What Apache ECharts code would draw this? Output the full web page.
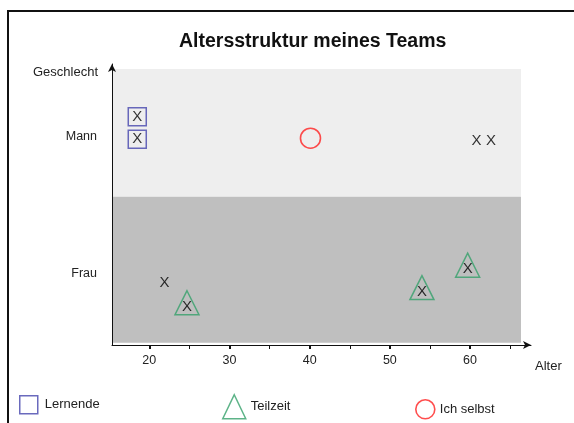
<!DOCTYPE html>
<html>
<head>
<meta charset="utf-8">
<script src="https://cdn.jsdelivr.net/npm/echarts@6/dist/echarts.min.js"></script>
<style>html,body{margin:0;padding:0;background:#fff}#c{width:574px;height:423px}</style>
</head>
<body>
<div id="c"></div>
<script>
// ---- data ----
const titleText = 'Altersstruktur meines Teams';
const ageTicks = [20, 30, 40, 50, 60];
const ageMinorTicks = [25, 35, 45, 55, 65];
const genderLabels = ['Frau', 'Mann'];
const genderPos = [25.3, 74.1];
const bandMann = [52.8, 98.2];
const bandFrau = [0.8, 52.8];
const bandAgeEnd = 66.35;
const lernende = [[18.5, 81.2], [18.5, 73.2]];
const teilzeit = [[24.7, 13.6], [54.0, 19.0], [59.7, 27.0]];
const ichSelbst = [[40.1, 73.6]];
const team = [[18.5, 81.2], [18.5, 73.2], [60.8, 72.6], [62.6, 72.6], [21.9, 22.0], [24.7, 13.6], [54.0, 19.0], [59.7, 27.0]];

const ageMin = 15.35, ageMax = 67.6;
const font = 'Liberation Sans, Arial, sans-serif';
const cBlue = '#4545ad', cGreen = '#35a06a', cRed = '#ff2020';

const chart = echarts.init(document.getElementById('c'), null, {renderer: 'canvas'});
const gridPos = {left: 112, right: 43, top: 64, bottom: 78};
chart.setOption({
  animation: false,
  textStyle: {fontFamily: font},
  title: {
    text: titleText, left: 174, top: 27,
    textStyle: {fontSize: 19.5, fontWeight: 'bold', color: '#111', fontFamily: font}
  },
  graphic: [{
    type: 'rect', shape: {x: 8, y: 11, width: 800, height: 800},
    style: {fill: 'none', stroke: '#111', lineWidth: 2}, z: 100
  }],
  grid: [Object.assign({}, gridPos), Object.assign({}, gridPos)],
  xAxis: [{
    type: 'value', gridIndex: 0, min: ageMin, max: ageMax, z: 10,
    name: 'Alter', nameLocation: 'end', nameGap: 4,
    nameTextStyle: {fontSize: 13, color: '#222', align: 'left', verticalAlign: 'top', padding: [15, 0, 0, 0]},
    splitLine: {show: false},
    axisLine: {lineStyle: {color: '#111', width: 1}, symbol: ['none', 'arrow'], symbolSize: [6, 8]},
    axisTick: {customValues: ageTicks, length: 4, lineStyle: {color: '#111', width: 2}},
    axisLabel: {customValues: ageTicks, margin: 9, fontSize: 12.5, color: '#222'}
  }, {
    type: 'value', gridIndex: 1, min: ageMin, max: ageMax, z: 10,
    splitLine: {show: false},
    axisLine: {show: false},
    axisTick: {customValues: ageMinorTicks, length: 4, lineStyle: {color: '#111', width: 1}},
    axisLabel: {show: false}
  }],
  yAxis: [{
    type: 'value', gridIndex: 0, min: 0, max: 100, z: 10,
    name: 'Geschlecht', nameLocation: 'end', nameGap: -8,
    nameTextStyle: {fontSize: 13, color: '#222', align: 'right', verticalAlign: 'middle', padding: [5, 14, 0, 0]},
    splitLine: {show: false},
    axisLine: {show: true, lineStyle: {color: '#111', width: 1}, symbol: ['none', 'arrow'], symbolSize: [6, 8]},
    axisTick: {show: false},
    axisLabel: {
      customValues: genderPos, margin: 15, fontSize: 12.5, color: '#222',
      formatter: function (v) {
        let best = 0;
        genderPos.forEach(function (p, i) { if (Math.abs(p - v) < Math.abs(genderPos[best] - v)) best = i; });
        return genderLabels[best];
      }
    }
  }, {
    type: 'value', gridIndex: 1, min: 0, max: 100, show: false
  }],
  legend: [{
    left: 19, top: 395, padding: 0, itemWidth: 18, itemHeight: 18, selectedMode: false,
    textStyle: {fontSize: 13, color: '#222', padding: [4, 0, 0, 2]},
    data: [{name: 'Lernende', icon: 'rect', itemStyle: {color: 'rgba(0,0,0,0)', borderColor: cBlue, borderWidth: 1.5}}]
  }, {
    left: 222, top: 394, padding: 0, itemWidth: 23, itemHeight: 24, selectedMode: false,
    textStyle: {fontSize: 13, color: '#222', padding: [2, 0, 0, 0]},
    data: [{name: 'Teilzeit', icon: 'triangle', itemStyle: {color: 'rgba(0,0,0,0)', borderColor: cGreen, borderWidth: 1.5}}]
  }, {
    left: 415, top: 399, padding: 0, itemWidth: 19, itemHeight: 19, selectedMode: false,
    textStyle: {fontSize: 13, color: '#222', padding: [0, 0, 2, 0]},
    data: [{name: 'Ich selbst', icon: 'circle', itemStyle: {color: 'rgba(0,0,0,0)', borderColor: cRed, borderWidth: 1.6}}]
  }],
  series: [{
    name: 'bands', type: 'scatter', xAxisIndex: 0, yAxisIndex: 0, data: [], z: 1,
    markArea: {
      silent: true,
      data: [
        [{xAxis: ageMin, yAxis: bandMann[0], itemStyle: {color: '#eeeeee'}}, {xAxis: bandAgeEnd, yAxis: bandMann[1]}],
        [{xAxis: ageMin, yAxis: bandFrau[0], itemStyle: {color: '#bfbfbf'}}, {xAxis: bandAgeEnd, yAxis: bandFrau[1]}]
      ]
    }
  }, {
    name: 'Lernende', type: 'scatter', xAxisIndex: 0, yAxisIndex: 0, z: 3,
    symbol: 'rect', symbolSize: 18, data: lernende,
    itemStyle: {color: 'rgba(0,0,0,0)', borderColor: cBlue, borderWidth: 1.5}
  }, {
    name: 'Teilzeit', type: 'scatter', xAxisIndex: 0, yAxisIndex: 0, z: 3,
    symbol: 'triangle', symbolSize: [24, 24], symbolOffset: [0, -4], data: teilzeit,
    itemStyle: {color: 'rgba(0,0,0,0)', borderColor: cGreen, borderWidth: 1.5}
  }, {
    name: 'Ich selbst', type: 'scatter', xAxisIndex: 0, yAxisIndex: 0, z: 3,
    symbol: 'circle', symbolSize: 20, data: ichSelbst,
    itemStyle: {color: 'rgba(0,0,0,0)', borderColor: cRed, borderWidth: 1.6}
  }, {
    name: 'Team', type: 'scatter', xAxisIndex: 0, yAxisIndex: 0, z: 4,
    symbol: 'circle', symbolSize: 2, data: team,
    itemStyle: {color: 'rgba(0,0,0,0)'},
    label: {show: true, position: 'inside', formatter: 'X', fontSize: 15, color: '#000', fontFamily: font}
  }]
});
</script>
</body>
</html>
